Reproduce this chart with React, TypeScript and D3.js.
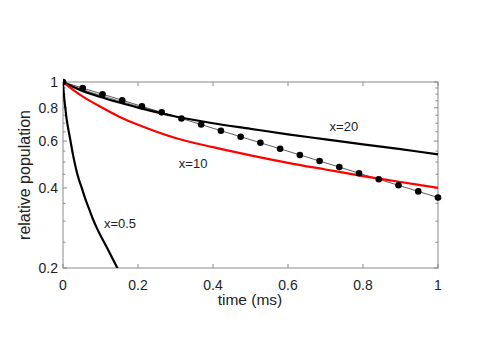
import React from "react";
import * as d3 from "d3";

const W = 485;
const H = 363;
const M = { left: 63, top: 82, right: 438, bottom: 268 };

// x = 0.5 curve
const tHalf = [0, 0.002, 0.004, 0.007, 0.01, 0.015, 0.02, 0.027, 0.035, 0.042, 0.05, 0.06, 0.07, 0.08, 0.09, 0.1, 0.115, 0.13, 0.145, 0.17];
const vHalf = [1, 0.91, 0.85, 0.78, 0.72, 0.655, 0.6, 0.53, 0.47, 0.432, 0.4, 0.362, 0.332, 0.305, 0.283, 0.265, 0.242, 0.22, 0.2, 0.175];

// x = 10 curve (red)
const tTen = [0, 0.05, 0.1, 0.15, 0.2, 0.3, 0.4, 0.5, 0.6, 0.7, 0.8, 0.9, 1.0];
const vTen = [1, 0.887, 0.807, 0.741, 0.691, 0.616, 0.569, 0.53, 0.497, 0.469, 0.443, 0.421, 0.4];

// x = 20 curve (black)
const tTwenty = [0, 0.05, 0.1, 0.15, 0.2, 0.3, 0.4, 0.5, 0.6, 0.7, 0.8, 0.9, 1.0];
const vTwenty = [1, 0.928, 0.878, 0.837, 0.801, 0.742, 0.7, 0.667, 0.636, 0.609, 0.583, 0.559, 0.535];

// thin gray companion line near the start
const tThin = [0, 0.05, 0.1, 0.15, 0.2, 0.25, 0.29];
const vThin = [1, 0.939, 0.891, 0.849, 0.81, 0.775, 0.748];

// dots (exponential reference)
const tDots = [0, 0.0526, 0.1053, 0.1579, 0.2105, 0.2632, 0.3158, 0.3684, 0.4211, 0.4737, 0.5263, 0.5789, 0.6316, 0.6842, 0.7368, 0.7895, 0.8421, 0.8947, 0.9474, 1.0];
const vDots = [1, 0.949, 0.9, 0.854, 0.81, 0.769, 0.729, 0.692, 0.656, 0.623, 0.591, 0.561, 0.532, 0.505, 0.479, 0.454, 0.431, 0.409, 0.388, 0.368];

const xTicks = [0, 0.2, 0.4, 0.6, 0.8, 1];
const xTickLabels = ["0", "0.2", "0.4", "0.6", "0.8", "1"];
const yMajor = [0.2, 0.4, 0.6, 0.8, 1];
const yMajorLabels = ["0.2", "0.4", "0.6", "0.8", "1"];
const yMinor = [0.25, 0.3, 0.35, 0.45, 0.5, 0.55, 0.65, 0.7, 0.75, 0.85, 0.9, 0.95];

const labels = [
  { text: "x=20", t: 0.749, v: 0.683 },
  { text: "x=10", t: 0.347, v: 0.496 },
  { text: "x=0.5", t: 0.152, v: 0.294 },
];

export default function App() {
  const x = d3.scaleLinear().domain([0, 1]).range([M.left, M.right]);
  const y = d3.scaleLog().domain([0.2, 1]).range([M.bottom, M.top]);
  const line = d3
    .line<[number, number]>()
    .x((d) => x(d[0]))
    .y((d) => y(d[1]))
    .curve(d3.curveCatmullRom.alpha(0.5));
  const straight = d3
    .line<[number, number]>()
    .x((d) => x(d[0]))
    .y((d) => y(d[1]));
  const zip = (a: number[], b: number[]) => a.map((t, i) => [t, b[i]] as [number, number]);
  const font = "'Liberation Sans', Arial, Helvetica, sans-serif";
  const axisColor = "#8a8a8a";
  const textColor = "#222";

  return (
    <svg width={W} height={H} style={{ position: "absolute", left: 0, top: 0, background: "#fff" }}>
      <defs>
        <clipPath id="plot">
          <rect x={M.left} y={M.top - 4} width={M.right - M.left + 4} height={M.bottom - M.top + 4} />
        </clipPath>
      </defs>
      <rect x={M.left} y={M.top} width={M.right - M.left} height={M.bottom - M.top} fill="none" stroke={axisColor} strokeWidth={1} />
      {xTicks.map((t, i) => (
        <g key={"xt" + i}>
          <line x1={x(t)} x2={x(t)} y1={M.bottom} y2={M.bottom - 4} stroke={axisColor} />
          <line x1={x(t)} x2={x(t)} y1={M.top} y2={M.top + 4} stroke={axisColor} />
          <text x={x(t)} y={290} textAnchor="middle" fontFamily={font} fontSize={14} fill={textColor}>
            {xTickLabels[i]}
          </text>
        </g>
      ))}
      {yMajor.map((v, i) => (
        <g key={"ym" + i}>
          <line x1={M.left} x2={M.left + 4} y1={y(v)} y2={y(v)} stroke={axisColor} />
          <line x1={M.right} x2={M.right - 4} y1={y(v)} y2={y(v)} stroke={axisColor} />
          <text x={58} y={y(v) + 5} textAnchor="end" fontFamily={font} fontSize={14} fill={textColor}>
            {yMajorLabels[i]}
          </text>
        </g>
      ))}
      {yMinor.map((v, i) => (
        <g key={"yn" + i}>
          <line x1={M.left} x2={M.left + 2.5} y1={y(v)} y2={y(v)} stroke={axisColor} />
          <line x1={M.right} x2={M.right - 2.5} y1={y(v)} y2={y(v)} stroke={axisColor} />
        </g>
      ))}
      <text x={250} y={305} textAnchor="middle" fontFamily={font} fontSize={15.5} fill={textColor}>
        time (ms)
      </text>
      <text
        transform={`translate(30,${(M.top + M.bottom) / 2}) rotate(-90)`}
        textAnchor="middle"
        fontFamily={font}
        fontSize={16}
        fill={textColor}
      >
        relative population
      </text>
      <g clipPath="url(#plot)">
        <path d={line(zip(tThin, vThin)) || ""} fill="none" stroke="#555" strokeWidth={0.8} />
        <path d={straight(zip(tDots, vDots)) || ""} fill="none" stroke="#333" strokeWidth={0.8} />
        <path d={line(zip(tTwenty, vTwenty)) || ""} fill="none" stroke="#000" strokeWidth={2.2} />
        <path d={line(zip(tTen, vTen)) || ""} fill="none" stroke="#f00" strokeWidth={2.2} />
        <path d={line(zip(tHalf, vHalf)) || ""} fill="none" stroke="#000" strokeWidth={2.2} />
        {tDots.map((t, i) => (
          <circle key={"d" + i} cx={x(t)} cy={y(vDots[i])} r={3.3} fill="#000" />
        ))}
      </g>
      {labels.map((l, i) => (
        <text key={"l" + i} x={x(l.t)} y={y(l.v)} textAnchor="middle" dominantBaseline="central" fontFamily={font} fontSize={13} fill={textColor}>
          {l.text}
        </text>
      ))}
    </svg>
  );
}
